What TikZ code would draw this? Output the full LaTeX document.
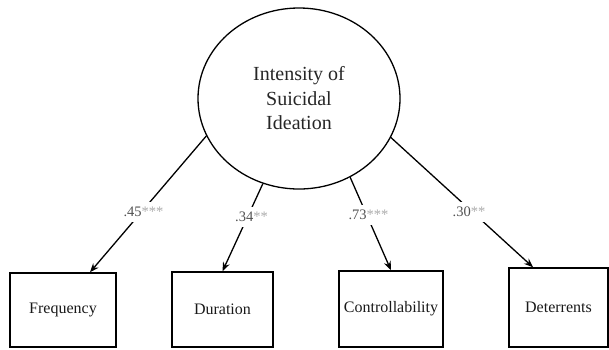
\documentclass[tikz,border=0pt]{standalone}
\usepackage{fontspec}
\setmainfont{Liberation Serif}
\usetikzlibrary{shapes.geometric,arrows.meta}
\begin{document}
\begin{tikzpicture}[x=1pt,y=-1pt,
  latent/.style={ellipse,draw,line width=1.3pt,minimum width=202pt,minimum height=181pt,inner sep=0pt,
    align=center,font=\fontsize{20}{24.5}\selectfont,text=black!85},
  obs/.style={rectangle,draw,line width=1.5pt,inner sep=0pt,font=\fontsize{16}{19}\selectfont,text=black!90},
  path/.style={line width=1.3pt,-{Stealth[length=9pt,width=7pt]}},
  coef/.style={fill=white,inner sep=5pt,font=\fontsize{14.5}{16}\selectfont,text=black!68}]
\useasboundingbox (0,0) rectangle (609,349);
\node[latent] (lat) at (299,98.5) {Intensity of\\Suicidal\\Ideation};
\node[obs,minimum width=106pt,minimum height=74pt] (freq) at (63,310) {Frequency};
\node[obs,minimum width=101pt,minimum height=75pt] (dur) at (222.5,309.5) {Duration};
\node[obs,minimum width=104pt,minimum height=76pt] (con) at (391,309) {Controllability};
\node[obs,minimum width=99pt,minimum height=79pt] (det) at (558.5,307.5) {Deterrents};
\draw[path] (lat.202.3) -- ([xshift=27pt]freq.north);
\draw[path] (lat.247.5) -- (dur.north);
\draw[path] (lat.303.5) -- (con.north);
\draw[path] (lat.337.5) -- ([xshift=-25.5pt]det.north);
\node[coef] (c1) at (143.5,212) {.45\textcolor{black!33}{***}};
\node[coef] (c2) at (251.5,217) {.34\textcolor{black!33}{**}};
\node[coef] (c3) at (368.5,215) {.73\textcolor{black!33}{***}};
\node[coef] (c4) at (469,212) {.30\textcolor{black!33}{**}};
\end{tikzpicture}
\end{document}
